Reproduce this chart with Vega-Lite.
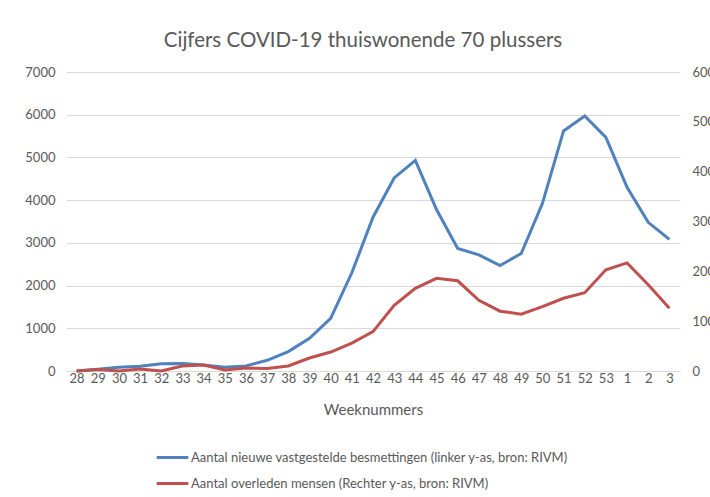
{
  "$schema": "https://vega.github.io/schema/vega-lite/v6.json",
  "width": 614,
  "height": 299,
  "autosize": {"type": "none"},
  "padding": {"left": 66, "top": 72, "right": 30, "bottom": 126},
  "background": "white",
  "title": {"text": "Cijfers COVID-19 thuiswonende 70 plussers", "fontSize": 20.5, "font": "Lato", "fontWeight": "normal", "color": "#595959", "offset": 15, "dx": -10},
  "config": {
    "view": {"stroke": null},
    "font": "Lato",
    "axis": {"labelFont": "Lato", "labelColor": "#595959", "labelFontSize": 13, "titleFont": "Lato", "titleColor": "#595959", "titleFontWeight": "normal", "ticks": false}
  },
  "data": {
    "values": [
      {"week": "28", "besmettingen": 0, "overleden": 0},
      {"week": "29", "besmettingen": 40, "overleden": 3},
      {"week": "30", "besmettingen": 90, "overleden": 0},
      {"week": "31", "besmettingen": 110, "overleden": 4},
      {"week": "32", "besmettingen": 170, "overleden": 0},
      {"week": "33", "besmettingen": 175, "overleden": 10},
      {"week": "34", "besmettingen": 140, "overleden": 12},
      {"week": "35", "besmettingen": 90, "overleden": 2},
      {"week": "36", "besmettingen": 120, "overleden": 6},
      {"week": "37", "besmettingen": 250, "overleden": 5},
      {"week": "38", "besmettingen": 455, "overleden": 10},
      {"week": "39", "besmettingen": 765, "overleden": 26},
      {"week": "40", "besmettingen": 1230, "overleden": 38},
      {"week": "41", "besmettingen": 2300, "overleden": 56},
      {"week": "42", "besmettingen": 3600, "overleden": 79},
      {"week": "43", "besmettingen": 4520, "overleden": 132},
      {"week": "44", "besmettingen": 4930, "overleden": 166},
      {"week": "45", "besmettingen": 3780, "overleden": 186},
      {"week": "46", "besmettingen": 2870, "overleden": 181},
      {"week": "47", "besmettingen": 2720, "overleden": 142},
      {"week": "48", "besmettingen": 2470, "overleden": 120},
      {"week": "49", "besmettingen": 2750, "overleden": 114},
      {"week": "50", "besmettingen": 3920, "overleden": 129},
      {"week": "51", "besmettingen": 5620, "overleden": 146},
      {"week": "52", "besmettingen": 5970, "overleden": 157},
      {"week": "53", "besmettingen": 5470, "overleden": 203},
      {"week": "1", "besmettingen": 4300, "overleden": 217},
      {"week": "2", "besmettingen": 3480, "overleden": 173},
      {"week": "3", "besmettingen": 3080, "overleden": 126}
    ]
  },
  "encoding": {
    "x": {
      "field": "week",
      "type": "ordinal",
      "sort": null,
      "scale": {"type": "point", "padding": 0.5, "domain": ["28","29","30","31","32","33","34","35","36","37","38","39","40","41","42","43","44","45","46","47","48","49","50","51","52","53","1","2","3"]},
      "axis": {"title": "Weeknummers", "titleFontSize": 15, "titlePadding": 17, "labelAngle": 0, "labelPadding": 1, "domain": true, "domainColor": "#d9d9d9", "grid": false}
    }
  },
  "layer": [
    {
      "mark": {"type": "line", "strokeWidth": 3},
      "encoding": {
        "y": {"field": "besmettingen", "type": "quantitative", "scale": {"domain": [0, 7000]},
          "axis": {"title": null, "values": [0,1000,2000,3000,4000,5000,6000,7000], "format": "d", "domain": false, "grid": true, "gridColor": "#d9d9d9", "labelPadding": 11}},
        "color": {
          "datum": "Aantal nieuwe vastgestelde besmettingen (linker y-as, bron: RIVM)",
          "type": "nominal",
          "scale": {"domain": ["Aantal nieuwe vastgestelde besmettingen (linker y-as, bron: RIVM)", "Aantal overleden mensen (Rechter y-as, bron: RIVM)"], "range": ["#4F81BD", "#C0504D"]},
          "legend": {"title": null, "orient": "none", "legendX": 89, "legendY": 368, "direction": "vertical", "symbolType": "stroke", "symbolStrokeWidth": 3, "symbolSize": 1000, "labelFont": "Lato", "labelFontSize": 13, "labelColor": "#595959", "labelLimit": 700, "labelOffset": 1, "rowPadding": 1}
        }
      }
    },
    {
      "mark": {"type": "line", "strokeWidth": 3},
      "encoding": {
        "y": {"field": "overleden", "type": "quantitative", "scale": {"domain": [0, 600]},
          "axis": {"title": null, "orient": "right", "values": [0,100,200,300,400,500,600], "format": "d", "domain": false, "grid": false, "labelPadding": 12}},
        "color": {"datum": "Aantal overleden mensen (Rechter y-as, bron: RIVM)", "type": "nominal"}
      }
    }
  ],
  "resolve": {"scale": {"y": "independent"}}
}
